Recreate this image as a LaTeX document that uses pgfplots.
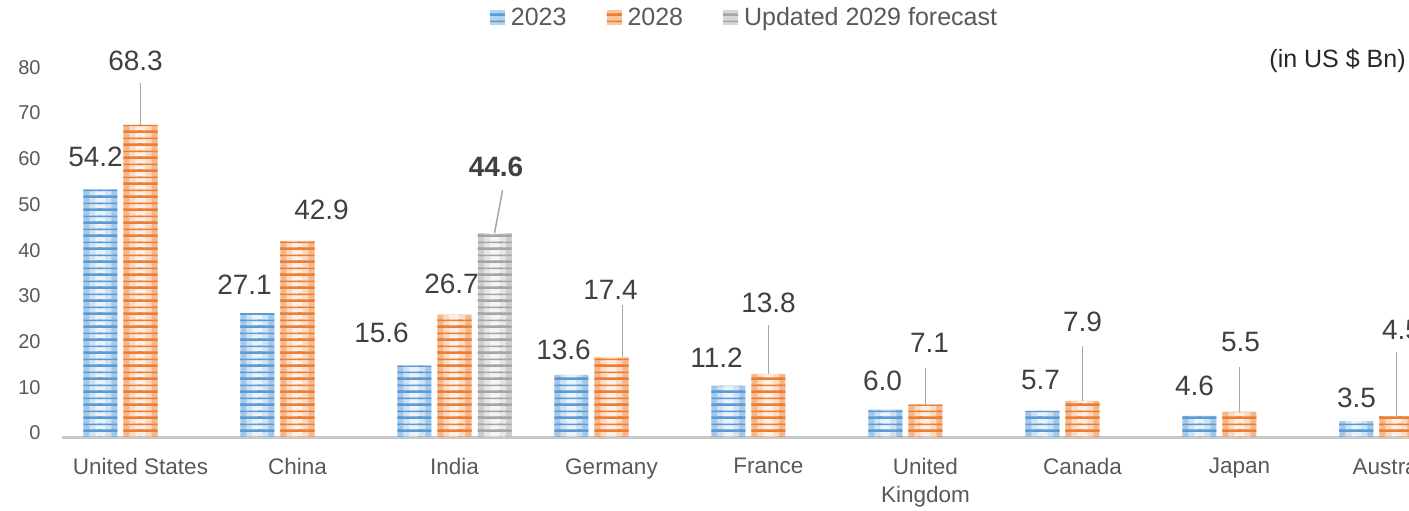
\documentclass[border=0pt]{standalone}
\usepackage{fontspec}
\setmainfont{Liberation Sans}
\usepackage{pgfplots}
\pgfplotsset{compat=1.18}
\usepackage{pgfplotstable}
\usetikzlibrary{patterns.meta}

\definecolor{c23}{HTML}{5B9BD5}
\definecolor{c28}{HTML}{ED7D31}
\definecolor{c29}{HTML}{A5A5A5}
\definecolor{txt}{HTML}{595959}
\definecolor{lbl}{HTML}{404040}
\definecolor{lead}{HTML}{A6A6A6}
\definecolor{base}{HTML}{C8C8C8}

% horizontal stripes, two per tile; tiles overlap sideways so no seams show
\pgfdeclarepattern{
  name=stripes, type=uncolored,
  bottom left={\pgfpoint{-1bp}{0bp}}, top right={\pgfpoint{11bp}{6.5bp}},
  tile size={\pgfpoint{10bp}{6.5bp}},
  code={
    \pgfpathrectangle{\pgfpoint{-1bp}{0.6bp}}{\pgfpoint{12bp}{1.2bp}}
    \pgfpathrectangle{\pgfpoint{-1bp}{3.9bp}}{\pgfpoint{12bp}{0.8bp}}
    \pgfusepath{fill}
  }}

% values; dx, dy = label offset from bar top (bp)
\pgfplotstableread{
x y dx dy
0 54.2 -2.5 16
1 27.1 -6.5 14
2 15.6 -16.5 16.5
3 13.6 -4 12.5
4 11.2 -6 14
5 6.0 -1.5 14.3
6 5.7 -1 15.5
7 4.6 -2.5 15
8 3.5 0 11.5
}\dataA
\pgfplotstableread{
x y dx dy
0 68.3 -2.5 32
1 42.9 12 15.5
2 26.7 -1.5 15.75
3 17.4 -0.5 34
4 13.8 0 35.5
5 7.1 2 31
6 7.9 0 39.5
7 5.5 0.5 35
8 4.5 2.5 43
}\dataB
\pgfplotstableread{
x y dx dy
2 44.6 0.75 33.25
}\dataC

\pgfplotsset{
  bg/.style 2 args={forget plot, draw=none, fill=#1, bar width=#2},
  stripe/.style={draw=none, bar width=17bp, pattern=stripes, pattern color=#1,
    legend image code/.code={
      \fill[#1!45!white] (0bp,-3.75bp) rectangle (7.5bp,3.75bp);
      \fill[pattern=stripes, pattern color=#1] (0bp,-3.75bp) rectangle (7.5bp,3.75bp);}},
  lab/.style={nodes near coords={\pgfmathprintnumber[fixed,fixed zerofill,precision=1,assume math mode=true]{\pgfplotspointmeta}},
    point meta=rawy,
    visualization depends on={\thisrow{dx} \as \dx},
    visualization depends on={\thisrow{dy} \as \dy},
    nodes near coords style={anchor=center, inner sep=0pt, xshift=\dx bp, yshift=\dy bp,
      text=lbl, font=\fontsize{14bp}{16bp}\selectfont}},
  leader/.style={sharp plot, no marks, lead, line width=0.75bp, forget plot},
}

\begin{document}
\begin{tikzpicture}
\useasboundingbox (0,0) rectangle (704.5bp,255.5bp);
\begin{scope}
\clip (0,0) rectangle (704.5bp,255.5bp);
\begin{axis}[
  at={(31bp,37bp)}, anchor=south west,
  scale only axis, width=706.5bp, height=194.25bp,
  xmin=-0.5, xmax=8.5, ymin=0, ymax=85,
  ybar, bar width=17bp,
  axis x line*=bottom, axis y line*=left,
  x axis line style={draw=base, line width=1.5bp, -},
  y axis line style={draw=none},
  major tick length=0pt,
  xtick={0,...,8},
  xticklabels={United States, China, India, Germany, France, {United\\Kingdom}, Canada, Japan, Australia},
  xticklabel style={align=center, anchor=north, inner sep=0pt, yshift=-10.5bp,
    font=\fontsize{11.25bp}{14bp}\selectfont, text=txt},
  ytick={0,10,...,80},
  yticklabel style={anchor=east, inner sep=0pt, xshift=-10.5bp, yshift=2bp,
    font=\fontsize{10bp}{12bp}\selectfont, text=txt},
  /pgf/number format/assume math mode=true,
  legend columns=3,
  legend style={at={(0.4823,1)}, anchor=center, yshift=15.25bp, draw=none, fill=none,
    font=\fontsize{12.5bp}{14bp}\selectfont, text=txt,
    nodes={inner sep=0pt},
    /tikz/every odd column/.append style={column sep=3bp},
    /tikz/every even column/.append style={column sep=20bp}},
  legend cell align=left,
]
% 2023: light body, paler centre, stripes on top
\addplot[bg={c23!55!white}{17bp}, bar shift=-20bp] table[x=x, y=y] {\dataA};
\addplot[bg={c23!28!white}{11bp}, bar shift=-20bp] table[x=x, y=y] {\dataA};
\addplot[bg={c23!12!white}{5bp}, bar shift=-20bp] table[x=x, y=y] {\dataA};
\addplot[stripe=c23, bar shift=-20bp, lab] table[x=x, y=y] {\dataA};
\addlegendentry{2023}
% 2028
\addplot[bg={c28!55!white}{17bp}, bar shift=0bp] table[x=x, y=y] {\dataB};
\addplot[bg={c28!28!white}{11bp}, bar shift=0bp] table[x=x, y=y] {\dataB};
\addplot[bg={c28!12!white}{5bp}, bar shift=0bp] table[x=x, y=y] {\dataB};
\addplot[stripe=c28, bar shift=0bp, lab] table[x=x, y=y] {\dataB};
\addlegendentry{2028}
% updated 2029 forecast (India only)
\addplot[bg={c29!55!white}{17bp}, bar shift=20bp] table[x=x, y=y] {\dataC};
\addplot[bg={c29!28!white}{11bp}, bar shift=20bp] table[x=x, y=y] {\dataC};
\addplot[bg={c29!12!white}{5bp}, bar shift=20bp] table[x=x, y=y] {\dataC};
\addplot[stripe=c29, bar shift=20bp, lab,
  nodes near coords style={font=\fontsize{14bp}{16bp}\selectfont\bfseries}] table[x=x, y=y] {\dataC};
\addlegendentry{Updated 2029 forecast}

\addplot[leader] coordinates {(0,77.5) (0,68.3)};
\addplot[leader] coordinates {(2.306,54.0) (2.255,44.6)};
\addplot[leader] coordinates {(3.07,28.9) (3.07,17.4)};
\addplot[leader] coordinates {(4,24.5) (4,13.8)};
\addplot[leader] coordinates {(5,15.1) (5,7.1)};
\addplot[leader] coordinates {(6,19.9) (6,7.9)};
\addplot[leader] coordinates {(7,15.3) (7,5.5)};
\addplot[leader] coordinates {(8,18.6) (8,4.5)};
\end{axis}
\node[anchor=base east, inner sep=0pt, font=\fontsize{12.5bp}{14bp}\selectfont, text=black!85]
  at (703bp,221.5bp) {(in US \$ Bn)};
\end{scope}
\end{tikzpicture}
\end{document}
